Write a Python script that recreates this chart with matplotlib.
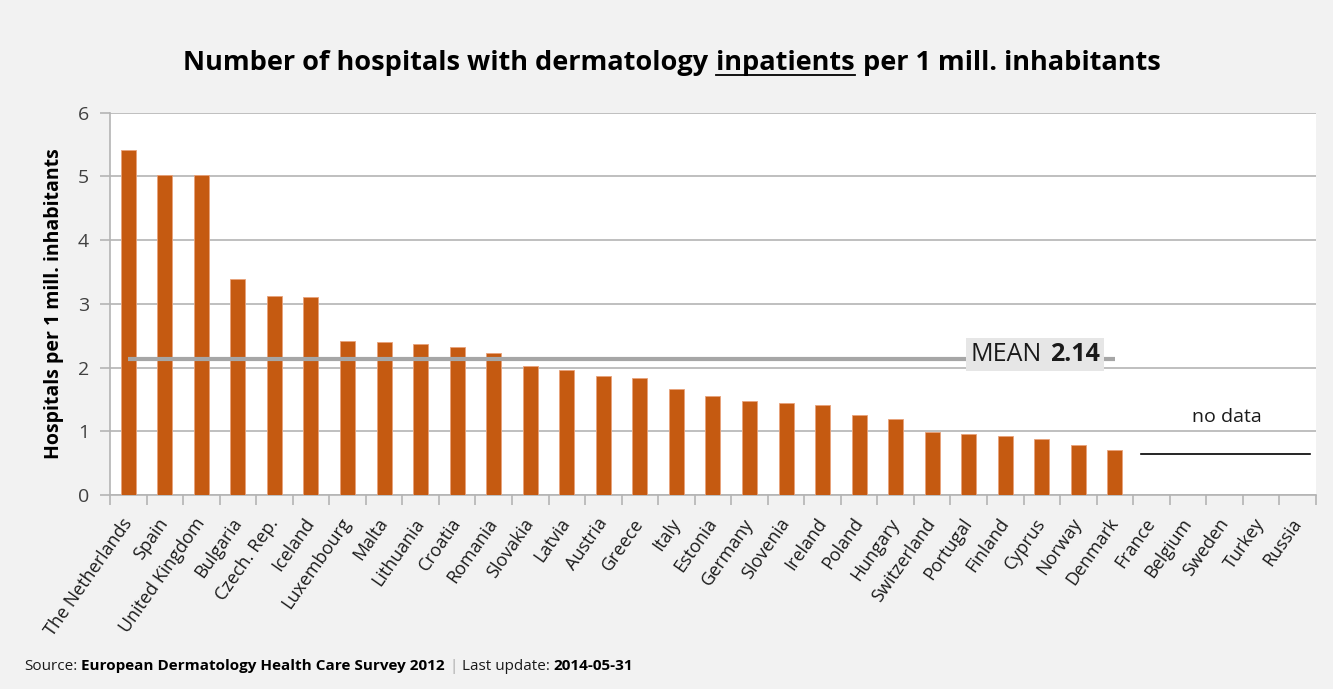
import numpy as np
import matplotlib.pyplot as plt
from matplotlib.offsetbox import TextArea, HPacker, AnnotationBbox

plt.rcParams['font.family'] = ['Open Sans', 'DejaVu Sans']

countries = ["The Netherlands", "Spain", "United Kingdom", "Bulgaria", "Czech. Rep.",
             "Iceland", "Luxembourg", "Malta", "Lithuania", "Croatia", "Romania",
             "Slovakia", "Latvia", "Austria", "Greece", "Italy", "Estonia", "Germany",
             "Slovenia", "Ireland", "Poland", "Hungary", "Switzerland", "Portugal",
             "Finland", "Cyprus", "Norway", "Denmark"]
values = [5.42, 5.02, 5.02, 3.39, 3.12, 3.10, 2.41, 2.40, 2.37, 2.32, 2.23,
          2.03, 1.96, 1.87, 1.84, 1.67, 1.55, 1.48, 1.45, 1.41, 1.26, 1.20,
          0.99, 0.95, 0.92, 0.88, 0.78, 0.70]
no_data = ["France", "Belgium", "Sweden", "Turkey", "Russia"]
MEAN = 2.14

labels = countries + no_data
x = np.arange(len(labels))

BAR = "#C55A11"
GRID = "#B4B4B4"

fig = plt.figure(figsize=(13.33, 6.89), dpi=100, facecolor="#F2F2F2")
ax = fig.add_axes([0.0825, 0.2816, 0.9047, 0.5548])
ax.set_facecolor("white")

ax.bar(x[:len(values)], values, width=0.41, color=BAR, edgecolor="#E9A27A",
       linewidth=0.6, zorder=3)

# mean line from the first bar to the last one
ax.plot([0, len(values) - 1], [MEAN, MEAN], color="#A6A6A6", linewidth=3,
        solid_capstyle="butt", zorder=4)

mean_box = HPacker(children=[
    TextArea("MEAN", textprops=dict(fontsize=18, color="#1a1a1a")),
    TextArea(f"{MEAN:.2f}", textprops=dict(fontsize=18, color="#1a1a1a", fontweight="bold")),
], align="baseline", pad=0, sep=6)
ab = AnnotationBbox(mean_box, (24.82, MEAN + 0.07), xycoords="data", frameon=True,
                    box_alignment=(0.5, 0.5), pad=0.48,
                    bboxprops=dict(facecolor="#E6E6E6", edgecolor="none", boxstyle="square"),
                    zorder=5)
ax.add_artist(ab)

# countries without data
ax.plot([27.7, 32.35], [0.64, 0.64], color="black", linewidth=1.2, zorder=4)
ax.text(30.05, 1.23, "no data", ha="center", va="center", fontsize=14, color="#1a1a1a")

ax.set_xlim(-0.5, len(labels) - 0.5)
ax.set_ylim(0, 6)
ax.set_yticks(range(7))
ax.yaxis.grid(True, color=GRID, linewidth=1.2, zorder=0)
ax.set_axisbelow(True)

ax.set_xticks(x)
ax.set_xticklabels(labels, rotation=55, ha="right", va="center",
                   rotation_mode="anchor", fontsize=13, color="#1a1a1a")
ax.set_xticks(np.arange(-0.5, len(labels)), minor=True)
ax.tick_params(axis="x", which="major", length=0, pad=18)
ax.tick_params(axis="x", which="minor", length=7, color=GRID, width=1.2)
ax.tick_params(axis="y", length=7, color=GRID, width=1.2, labelsize=14,
               labelcolor="#404040", pad=8)

for side in ["top", "right"]:
    ax.spines[side].set_visible(False)
for side in ["left", "bottom"]:
    ax.spines[side].set_color(GRID)
    ax.spines[side].set_linewidth(1.2)

ax.set_ylabel("Hospitals per 1 mill. inhabitants", fontsize=14, fontweight="bold",
              color="black", labelpad=10)

# title with the underlined word
tprops = dict(fontsize=19.5, fontweight="bold", color="black")
t1 = TextArea("Number of hospitals with dermatology", textprops=tprops)
t2 = TextArea("inpatients", textprops=tprops)
t3 = TextArea("per 1 mill. inhabitants", textprops=tprops)
title = HPacker(children=[t1, t2, t3], align="baseline", pad=0, sep=6)
tb = AnnotationBbox(title, (0.504, 0.908), xycoords="figure fraction", frameon=False,
                    box_alignment=(0.5, 0.5))
fig.add_artist(tb)

# source line
sprops = dict(fontsize=11, color="#1a1a1a")
bprops = dict(fontsize=11, color="black", fontweight="bold")
src = HPacker(children=[
    TextArea("Source:", textprops=sprops),
    TextArea("European Dermatology Health Care Survey 2012", textprops=bprops),
    TextArea("|", textprops=dict(fontsize=11, color="#A6A6A6")),
    TextArea("Last update:", textprops=sprops),
    TextArea("2014-05-31", textprops=bprops),
], align="baseline", pad=0, sep=3)
sb = AnnotationBbox(src, (0.018, 0.022), xycoords="figure fraction", frameon=False,
                    box_alignment=(0, 0))
fig.add_artist(sb)

fig.canvas.draw()
bb = t2._text.get_window_extent(fig.canvas.get_renderer())
y_line = bb.y0 + 1
fig.add_artist(plt.Line2D([bb.x0 / fig.bbox.width, bb.x1 / fig.bbox.width],
                          [y_line / fig.bbox.height] * 2, color="black", linewidth=1.3))

fig.savefig("out.png", dpi=100, facecolor=fig.get_facecolor())
